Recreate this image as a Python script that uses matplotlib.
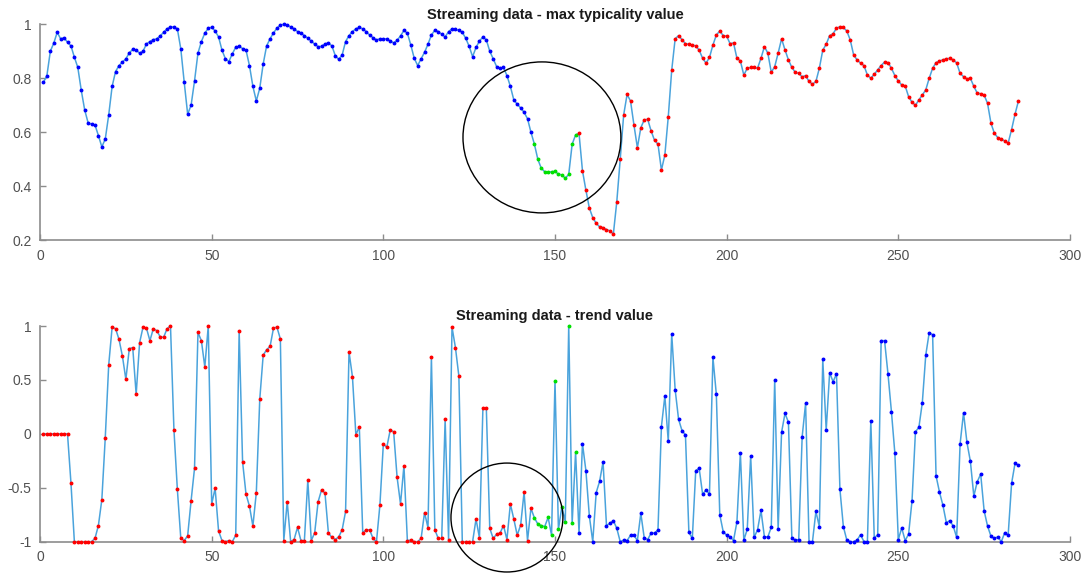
import matplotlib.pyplot as plt
from matplotlib.patches import Ellipse

plt.rcParams['font.family'] = ['Liberation Sans', 'DejaVu Sans']

# valores (indice 1..285)
tipicidad = [
    0.785, 0.81, 0.90, 0.93, 0.97, 0.946, 0.95, 0.933, 0.92, 0.878,
    0.84, 0.756, 0.683, 0.635, 0.63, 0.627, 0.588, 0.546, 0.575, 0.664,
    0.77, 0.825, 0.847, 0.86, 0.872, 0.894, 0.907, 0.904, 0.893, 0.90,
    0.927, 0.936, 0.943, 0.946, 0.957, 0.97, 0.983, 0.99, 0.99, 0.983,
    0.909, 0.785, 0.667, 0.70, 0.79, 0.893, 0.936, 0.967, 0.985, 0.989,
    0.975, 0.953, 0.904, 0.872, 0.862, 0.89, 0.915, 0.918, 0.91, 0.904,
    0.847, 0.77, 0.716, 0.763, 0.853, 0.92, 0.946, 0.968, 0.985, 0.997,
    1.0, 0.997, 0.99, 0.983, 0.973, 0.967, 0.958, 0.948, 0.938, 0.926,
    0.917, 0.918, 0.927, 0.931, 0.92, 0.884, 0.87, 0.886, 0.936, 0.958,
    0.973, 0.983, 0.988, 0.983, 0.973, 0.96, 0.95, 0.942, 0.946, 0.946,
    0.946, 0.938, 0.931, 0.94, 0.957, 0.977, 0.967, 0.923, 0.874, 0.847,
    0.872, 0.896, 0.926, 0.96, 0.978, 0.973, 0.963, 0.953, 0.973, 0.983,
    0.981, 0.977, 0.97, 0.948, 0.918, 0.88, 0.914, 0.938, 0.953, 0.942,
    0.90, 0.872, 0.843, 0.837, 0.84, 0.81, 0.77, 0.72, 0.704, 0.69,
    0.674, 0.65, 0.60, 0.556, 0.50, 0.467, 0.454, 0.452, 0.454, 0.455,
    0.445, 0.442, 0.43, 0.444, 0.556, 0.59, 0.596, 0.458, 0.386, 0.32,
    0.284, 0.263, 0.25, 0.247, 0.24, 0.235, 0.223, 0.343, 0.50, 0.664,
    0.74, 0.716, 0.627, 0.543, 0.617, 0.646, 0.648, 0.605, 0.57, 0.556,
    0.46, 0.516, 0.658, 0.83, 0.946, 0.958, 0.943, 0.928, 0.926, 0.923,
    0.92, 0.904, 0.874, 0.856, 0.877, 0.923, 0.96, 0.975, 0.958, 0.956,
    0.928, 0.931, 0.874, 0.864, 0.812, 0.837, 0.84, 0.84, 0.837, 0.874,
    0.917, 0.893, 0.822, 0.843, 0.893, 0.946, 0.905, 0.868, 0.84, 0.822,
    0.818, 0.805, 0.81, 0.788, 0.778, 0.788, 0.837, 0.904, 0.926, 0.958,
    0.965, 0.985, 0.991, 0.988, 0.975, 0.942, 0.886, 0.868, 0.856, 0.847,
    0.812, 0.80, 0.815, 0.831, 0.847, 0.86, 0.858, 0.837, 0.81, 0.79,
    0.775, 0.772, 0.732, 0.711, 0.70, 0.72, 0.738, 0.757, 0.80, 0.837,
    0.858, 0.864, 0.868, 0.872, 0.874, 0.868, 0.857, 0.818, 0.806, 0.798,
    0.80, 0.77, 0.745, 0.743, 0.738, 0.707, 0.633, 0.596, 0.58, 0.575,
    0.568, 0.56, 0.61, 0.667, 0.716,
]

tendencia = [
    0, 0, 0, 0, 0, 0, 0, 0, -0.453, -1,
    -1, -1, -1, -1, -1, -0.97, -0.85, -0.61, -0.035, 0.638,
    0.99, 0.975, 0.876, 0.72, 0.505, 0.79, 0.80, 0.366, 0.845, 0.99,
    0.98, 0.864, 0.975, 0.957, 0.90, 0.895, 0.975, 1.0, 0.04, -0.515,
    -0.97, -0.99, -0.945, -0.62, -0.32, 0.94, 0.864, 0.62, 1.0, -0.65,
    -0.505, -0.90, -0.99, -1, -0.99, -1, -0.94, 0.95, -0.26, -0.56,
    -0.67, -0.855, -0.545, 0.32, 0.73, 0.78, 0.81, 0.98, 0.99, 0.88,
    -0.99, -0.63, -1, -0.98, -0.867, -0.99, -0.99, -0.43, -0.99, -0.917,
    -0.63, -0.52, -0.55, -0.92, -0.96, -0.98, -0.955, -0.89, -0.72, 0.76,
    0.53, -0.01, 0.067, -0.917, -0.89, -0.89, -0.97, -1, -0.66, -0.094,
    -0.125, 0.035, 0.02, -0.40, -0.65, -0.295, -0.99, -0.985, -1, -1,
    -0.97, -0.73, -0.87, 0.71, -0.89, -0.97, -0.97, 0.134, -0.98, 0.99,
    0.80, 0.536, -1, -1, -1, -1, -0.79, -0.966, 0.236, 0.236,
    -0.876, -0.97, -0.93, -0.92, -0.85, -0.98, -0.65, -0.79, -0.94, -0.845,
    -0.54, -0.99, -0.69, -0.78, -0.836, -0.85, -0.86, -0.775, -0.94, 0.49,
    -0.886, -0.675, -0.815, 1.0, -0.83, -0.17, -0.92, -0.09, -0.34, -0.76,
    -1.0, -0.545, -0.44, -0.26, -0.85, -0.83, -0.805, -0.876, -1, -0.985,
    -0.99, -0.94, -0.94, -0.99, -0.737, -0.966, -0.98, -0.92, -0.92, -0.89,
    0.067, 0.35, -0.07, 0.926, 0.41, 0.134, 0.03, -0.01, -0.913, -0.97,
    -0.34, -0.32, -0.56, -0.52, -0.56, 0.71, 0.366, -0.75, -0.907, -0.94,
    -0.955, -0.99, -0.815, -0.175, -0.985, -0.886, -0.206, -0.96, -0.89, -0.71,
    -0.955, -0.955, -0.867, 0.50, -0.886, 0.014, 0.19, 0.107, -0.97, -0.985,
    -0.98, -0.026, 0.283, -1, -1, -0.72, -0.86, 0.69, 0.035, 0.567,
    0.484, 0.555, -0.515, -0.86, -0.985, -1, -1, -0.985, -0.935, -1,
    -1, 0.12, -0.966, -0.935, 0.864, 0.864, 0.555, 0.206, -0.18, -0.98,
    -0.873, -0.99, -0.93, -0.62, 0.02, 0.06, 0.29, 0.73, 0.938, 0.92,
    -0.39, -0.54, -0.663, -0.824, -0.805, -0.855, -0.96, -0.094, 0.196, -0.08,
    -0.255, -0.577, -0.444, -0.373, -0.713, -0.855, -0.95, -0.97, -0.955, -1,
    -0.917, -0.94, -0.46, -0.274, -0.29,
]

# tramos de color (indices 1-based, inclusivos)
inicio_verde = 144
fin_verde = 156

titulos = ['Streaming data - max typicality value', 'Streaming data - trend value']
ticks_x = [0, 50, 100, 150, 200, 250, 300]
ticks_y_sup = [0.2, 0.4, 0.6, 0.8, 1]
etiquetas_y_sup = ['0.2', '0.4', '0.6', '0.8', '1']
ticks_y_inf = [-1, -0.5, 0, 0.5, 1]
etiquetas_y_inf = ['-1', '-0.5', '0', '0.5', '1']

color_linea = '#4aa3dc'
gris = '#8c8c8c'


def dibujar(ax, valores, colores_tramos, titulo, ylim, yticks, ylabels, circulo):
    x = list(range(1, len(valores) + 1))
    ax.plot(x, valores, '-', color=color_linea, lw=1.1, zorder=2, clip_on=False)
    a, b = inicio_verde - 1, fin_verde
    tramos = [(0, a), (a, b), (b, len(valores))]
    for (i0, i1), c in zip(tramos, colores_tramos):
        ax.plot(x[i0:i1], valores[i0:i1], '.', color=c, ms=3.6, zorder=3,
                clip_on=False)
    ax.set_xlim(0, 300)
    ax.set_ylim(*ylim)
    ax.set_xticks(ticks_x)
    ax.set_yticks(yticks)
    ax.set_yticklabels(ylabels)
    for s in ['top', 'right']:
        ax.spines[s].set_visible(False)
    for s in ['left', 'bottom']:
        ax.spines[s].set_color(gris)
        ax.spines[s].set_linewidth(1.2)
    ax.tick_params(direction='in', length=4, width=1, color=gris,
                   labelsize=10, labelcolor='#505050', pad=6)
    ax.set_title(titulo, fontsize=10.5, fontweight='bold', color='#1a1a1a', pad=4)
    cx, cy, w, h = circulo
    ax.add_patch(Ellipse((cx, cy), w, h, fill=False, ec='black', lw=1.0,
                         clip_on=False, zorder=4))


fig = plt.figure(figsize=(10.91, 5.77), dpi=100)
ax1 = fig.add_axes([0.0367, 0.5835, 0.944, 0.3745])
ax2 = fig.add_axes([0.0367, 0.0612, 0.944, 0.3738])

dibujar(ax1, tipicidad, ['#0000ff', '#00e000', '#ff0000'], titulos[0],
        (0.2, 1), ticks_y_sup, etiquetas_y_sup, (146.2, 0.581, 46, 0.559))
dibujar(ax2, tendencia, ['#ff0000', '#00e000', '#0000ff'], titulos[1],
        (-1, 1), ticks_y_inf, etiquetas_y_inf, (136, -0.776, 32.6, 1.01))

plt.savefig('out.png', dpi=100)
